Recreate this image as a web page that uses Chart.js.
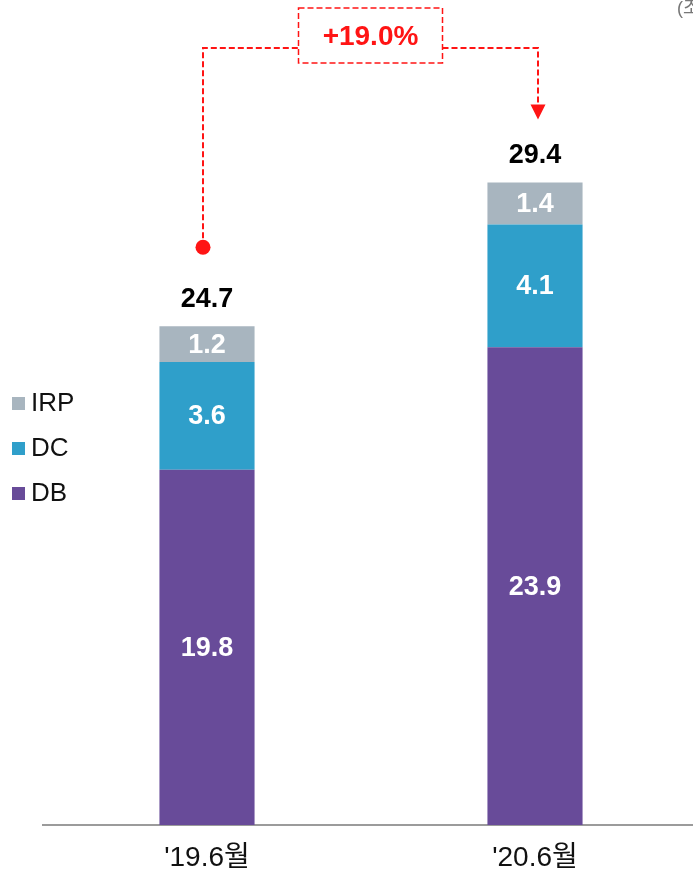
<!DOCTYPE html>
<html lang="ko">
<head>
<meta charset="utf-8">
<script src="https://cdn.jsdelivr.net/npm/chart.js@4/dist/chart.umd.min.js"></script>
<style>
  html, body { margin:0; padding:0; background:#fff; overflow:hidden; }
  #wrap { position:relative; width:693px; height:876px; overflow:hidden; }
</style>
</head>
<body>
<div id="wrap"><canvas id="pensionChart" width="699" height="876"></canvas></div>
<script>
// Retirement pension reserves by type (조원)
const PERIODS = ["'19.6월", "'20.6월"];
const DB_VALUES  = [19.8, 23.9];
const DC_VALUES  = [3.6, 4.1];
const IRP_VALUES = [1.2, 1.4];
const TOTALS     = [24.7, 29.4];
const GROWTH_LABEL = '+19.0%';
const UNIT_LABEL = '(조원)';

const COLORS = { DB:'#684b99', DC:'#2f9fca', IRP:'#a8b5bf' };
const FONT = "'Liberation Sans', Arial, 'Noto Sans CJK KR', sans-serif";

// ============================================================
// Plugin: segment values, totals, legend, growth callout
const overlayPlugin = {
  id: 'overlay',
  afterDatasetsDraw(chart) {
    const ctx = chart.ctx;
    const area = chart.chartArea;

    // values inside each stacked segment (centred on the visible part)
    ctx.save();
    ctx.font = 'bold 27px ' + FONT;
    ctx.fillStyle = '#fff';
    ctx.textAlign = 'center';
    ctx.textBaseline = 'middle';
    chart.data.datasets.forEach((ds, di) => {
      chart.getDatasetMeta(di).data.forEach((bar, i) => {
        const top = Math.max(bar.y, area.top);
        const bottom = Math.min(bar.base, area.bottom);
        ctx.fillText(ds.data[i].toFixed(1), bar.x, (top + bottom) / 2 + 1);
      });
    });

    // totals above the stacks
    const topMeta = chart.getDatasetMeta(chart.data.datasets.length - 1);
    ctx.fillStyle = '#000';
    topMeta.data.forEach((bar, i) => {
      ctx.fillText(TOTALS[i].toFixed(1), bar.x, bar.y - 27);
    });
    ctx.restore();

    // legend on the left, IRP first
    ctx.save();
    ctx.font = '26px ' + FONT;
    ctx.textBaseline = 'middle';
    const order = [2, 1, 0];
    order.forEach((di, row) => {
      const ds = chart.data.datasets[di];
      const y = 403 + row * 45;
      ctx.fillStyle = ds.backgroundColor;
      ctx.fillRect(12, y - 6, 13, 13);
      ctx.fillStyle = '#111';
      ctx.fillText(ds.label, 31, y + 1);
    });
    ctx.restore();

    // unit note, cut by the right edge
    ctx.save();
    ctx.font = '18px ' + FONT;
    ctx.fillStyle = '#777';
    ctx.textBaseline = 'top';
    ctx.fillText(UNIT_LABEL, 677, 0);
    ctx.restore();

    // growth callout: dashed red connector from first total to second
    const b1 = topMeta.data[0];
    const b2 = topMeta.data[1];
    const x1 = b1.x - 4, y1 = b1.y - 79;
    const x2 = b2.x + 3, y2 = b2.y - 63;
    const lineY = 48;
    const boxW = 144, boxH = 55, boxTop = 8;
    const boxX = (x1 + x2) / 2 - boxW / 2;
    const red = '#ff1414';

    ctx.save();
    ctx.strokeStyle = red;
    ctx.fillStyle = red;
    ctx.lineWidth = 2;
    ctx.setLineDash([6, 3]);
    ctx.beginPath();
    ctx.moveTo(x1, y1);
    ctx.lineTo(x1, lineY);
    ctx.lineTo(boxX, lineY);
    ctx.moveTo(boxX + boxW, lineY);
    ctx.lineTo(x2, lineY);
    ctx.lineTo(x2, y2 - 14);
    ctx.stroke();
    ctx.lineWidth = 1.5;
    ctx.strokeRect(boxX, boxTop, boxW, boxH);
    ctx.setLineDash([]);

    // start dot and arrow head
    ctx.beginPath();
    ctx.arc(x1, y1, 7.5, 0, Math.PI * 2);
    ctx.fill();
    ctx.beginPath();
    ctx.moveTo(x2 - 7.5, y2 - 15);
    ctx.lineTo(x2 + 7.5, y2 - 15);
    ctx.lineTo(x2, y2);
    ctx.closePath();
    ctx.fill();

    ctx.font = 'bold 28px ' + FONT;
    ctx.textAlign = 'center';
    ctx.textBaseline = 'middle';
    ctx.fillText(GROWTH_LABEL, boxX + boxW / 2, boxTop + boxH / 2 + 2);
    ctx.restore();
  }
};

const barStyle = { barPercentage:0.29, categoryPercentage:1, clip:0, borderWidth:0 };

new Chart(document.getElementById('pensionChart'), {
  type: 'bar',
  data: {
    labels: PERIODS,
    datasets: [
      { label:'DB',  data:DB_VALUES,  backgroundColor:COLORS.DB,  ...barStyle },
      { label:'DC',  data:DC_VALUES,  backgroundColor:COLORS.DC,  ...barStyle },
      { label:'IRP', data:IRP_VALUES, backgroundColor:COLORS.IRP, ...barStyle },
    ]
  },
  options: {
    responsive: false,
    animation: false,
    events: [],
    layout: { padding: { top:15, left:43, right:0, bottom:0 } },
    plugins: { legend:{ display:false }, tooltip:{ enabled:false } },
    scales: {
      x: {
        stacked: true,
        grid: { display:false, drawTicks:false },
        border: { display:true, color:'#9b9b9b', width:2 },
        ticks: { color:'#111', padding:16, font:{ family:FONT, size:28 } },
        afterFit: s => { s.height = 51; }
      },
      y: {
        stacked: true,
        display: false,
        min: 7.93,
        max: 35
      }
    }
  },
  plugins: [overlayPlugin]
});
</script>
</body>
</html>
